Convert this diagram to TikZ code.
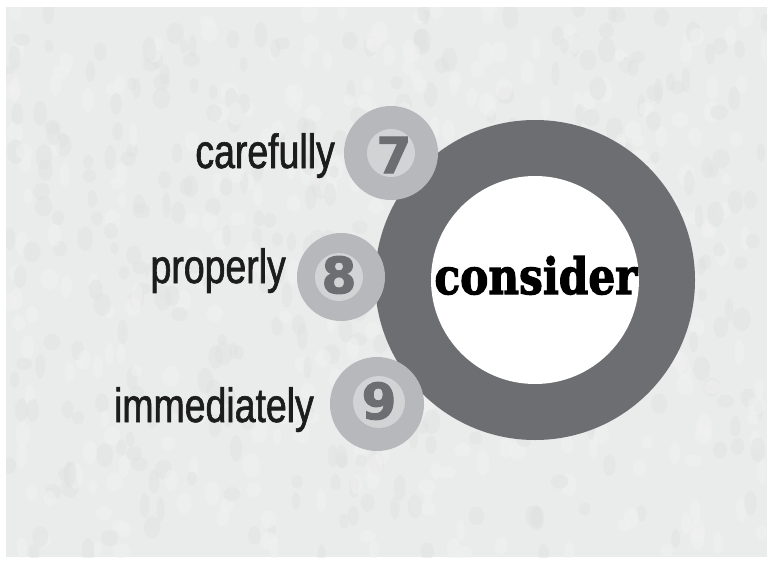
\documentclass[tikz,border=0pt]{standalone}
\usepackage{fontspec}
\setmainfont{Liberation Sans}
\newfontfamily\labelfont[FakeStretch=0.78,FakeBold=1.3]{Liberation Sans}
\newfontfamily\numfont[FakeBold=2]{DejaVu Sans}
\newfontfamily\slabfont[FakeBold=2.5]{DejaVu Serif}
\definecolor{bgc}{HTML}{EAEBEB}
\definecolor{speckA}{HTML}{E1E2E2}
\definecolor{speckB}{HTML}{F1F1F1}
\definecolor{ringc}{HTML}{6D6E71}
\definecolor{outerc}{HTML}{B7B8BB}
\definecolor{innerc}{HTML}{D2D3D5}
\definecolor{txtc}{HTML}{1C1C1C}
\tikzset{
  wordlabel/.style={font=\labelfont\fontsize{48}{48}\selectfont, text=txtc, inner sep=0pt, anchor=base east},
  outerdisc/.style={circle, fill=outerc, inner sep=0pt},
  innerdisc/.style={circle, fill=innerc, inner sep=0pt},
  numtext/.style={font=\numfont\bfseries\fontsize{50}{50}\selectfont, text=ringc, inner sep=0pt}
}
\begin{document}
\begin{tikzpicture}[x=1pt,y=-1pt]
\useasboundingbox (0,0) rectangle (773,562);
\fill[white] (0,0) rectangle (773,562);
\fill[bgc] (6,7) rectangle (767,557);
\begin{scope}
\clip (6,7) rectangle (767,557);
\pgfmathsetseed{7}
\foreach \i in {1,...,700}{
  \pgfmathsetmacro{\px}{6+761*rnd}
  \pgfmathsetmacro{\py}{7+550*rnd}
  \pgfmathsetmacro{\rw}{4+5*rnd}
  \pgfmathsetmacro{\rh}{6+7*rnd}
  \pgfmathsetmacro{\kind}{rnd}
  \ifdim\kind pt<0.5pt
    \fill[speckA, opacity=0.5] (\px,\py) ellipse ({\rw} and {\rh});
  \else
    \fill[speckB, opacity=0.5] (\px,\py) ellipse ({\rw} and {\rh});
  \fi
}
\end{scope}
% big ring
\node[circle, fill=ringc, minimum size=320pt, inner sep=0pt] (ring) at (535,280) {};
\node[circle, fill=white, minimum size=208pt, inner sep=0pt] (core) at (535,280) {};
\node[inner sep=0pt, anchor=base] (word) at (536,294) {\resizebox{203pt}{38pt}{\slabfont\bfseries consider}};
% small discs
\node[outerdisc, minimum size=94pt] (d7) at (391,153) {};
\node[innerdisc, minimum size=48pt] (i7) at (391,153) {};
\node[numtext] (n7) at (394,155) {7};
\node[outerdisc, minimum size=88pt] (d8) at (341,277) {};
\node[innerdisc, minimum size=48pt] (i8) at (339,277) {};
\node[numtext] (n8) at (339,275) {8};
\node[outerdisc, minimum size=94pt] (d9) at (377,404) {};
\node[innerdisc, minimum size=52pt] (i9) at (379,402) {};
\node[numtext] (n9) at (379,401) {9};
% labels
\node[wordlabel] (l7) at (335,168) {carefully};
\node[wordlabel] (l8) at (286,283) {properly};
\node[wordlabel] (l9) at (314,422) {immediately};
\end{tikzpicture}
\end{document}
